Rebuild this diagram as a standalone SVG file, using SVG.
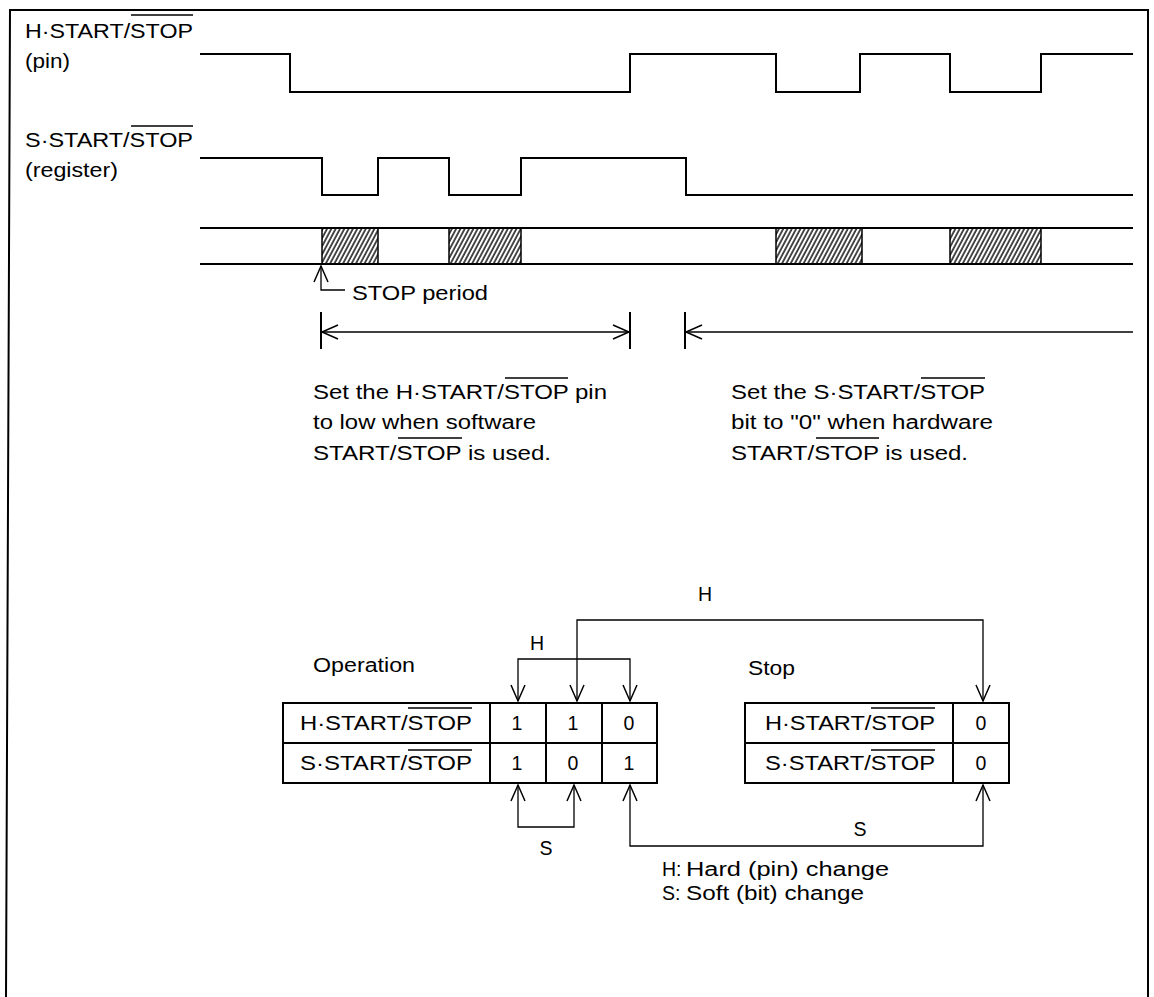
<svg xmlns="http://www.w3.org/2000/svg" width="1154" height="997" viewBox="0 0 1154 997">
<style>
text { font-family: "Liberation Sans", Arial, Helvetica, sans-serif; font-size: 19.5px; fill: #000; }
.mid { text-anchor: middle; }
.wave { fill: none; stroke: #000; stroke-width: 2; }
.thin { fill: none; stroke: #000; stroke-width: 1.3; }
.tick { fill: none; stroke: #000; stroke-width: 2; }
.box { fill: none; stroke: #000; stroke-width: 2; }
.ol { fill: none; stroke: #000; stroke-width: 1.5; }
.hatch { fill: url(#hatch); stroke: #000; stroke-width: 1.5; }
.arr { marker-end: url(#arrow); }
.arr2 { marker-start: url(#arrow); marker-end: url(#arrow); }
</style>
<defs>
<pattern id="hatch" patternUnits="userSpaceOnUse" width="3.8" height="10" patternTransform="rotate(28)">
<line x1="1" y1="-1" x2="1" y2="11" stroke="#000" stroke-width="1.4"/>
</pattern>
<marker id="arrow" markerUnits="userSpaceOnUse" markerWidth="22" markerHeight="20" viewBox="-20 -10 22 20" refX="0" refY="0" orient="auto-start-reverse">
<path d="M-16,-7 L0,0 L-16,7" fill="none" stroke="#000" stroke-width="1.5"/>
</marker>
</defs>
<rect width="1154" height="997" fill="#fff"/>
<path d="M6,997 L10,10 L1148,10 L1148,997" fill="none" stroke="#000" stroke-width="2"/>

<g id="label-h-pin">
<text x="25" y="38" textLength="168" lengthAdjust="spacingAndGlyphs">H·START/STOP</text>
<line class="ol" x1="131" y1="15" x2="193" y2="15"/>
<text x="25" y="68" textLength="45" lengthAdjust="spacingAndGlyphs">(pin)</text>
</g>
<g id="label-s-register">
<text x="25" y="147" textLength="168" lengthAdjust="spacingAndGlyphs">S·START/STOP</text>
<line class="ol" x1="131" y1="126" x2="193" y2="126"/>
<text x="25" y="177" textLength="93" lengthAdjust="spacingAndGlyphs">(register)</text>
</g>

<g id="wave-h">
<path class="wave" d="M200,54 H290 V92 H630 V54 H776 V92 H860 V54 H950 V92 H1041 V54 H1133"/>
</g>
<g id="wave-s">
<path class="wave" d="M200,158 H322 V195 H378 V158 H449 V195 H521 V158 H686 V195 H1133"/>
</g>
<g id="stop-band">
<rect class="hatch" x="322" y="228" width="56" height="36"/>
<rect class="hatch" x="449" y="228" width="72" height="36"/>
<rect class="hatch" x="776" y="228" width="86" height="36"/>
<rect class="hatch" x="950" y="228" width="91" height="36"/>
<path class="wave" d="M200,228 H1133 M200,264 H1133"/>
</g>

<g id="stop-period">
<text x="352" y="300" textLength="136" lengthAdjust="spacingAndGlyphs">STOP period</text>
</g>

<g id="note-software">
<text x="313" y="399" textLength="294" lengthAdjust="spacingAndGlyphs">Set the H·START/STOP pin</text>
<line class="ol" x1="505" y1="378" x2="568" y2="378"/>
<text x="313" y="429" textLength="223" lengthAdjust="spacingAndGlyphs">to low when software</text>
<text x="313" y="460" textLength="238" lengthAdjust="spacingAndGlyphs">START/STOP is used.</text>
<line class="ol" x1="398" y1="438" x2="462" y2="438"/>
</g>
<g id="note-hardware">
<text x="731" y="399" textLength="254" lengthAdjust="spacingAndGlyphs">Set the S·START/STOP</text>
<line class="ol" x1="921" y1="378" x2="985" y2="378"/>
<text x="731" y="429" textLength="262" lengthAdjust="spacingAndGlyphs">bit to "0" when hardware</text>
<text x="731" y="460" textLength="237" lengthAdjust="spacingAndGlyphs">START/STOP is used.</text>
<line class="ol" x1="816" y1="438" x2="879" y2="438"/>
</g>

<g id="table-operation">
<text x="313" y="672" textLength="102" lengthAdjust="spacingAndGlyphs">Operation</text>
<rect class="box" x="283" y="703" width="374" height="80"/>
<path class="box" d="M283,743 H657 M490,703 V783 M546,703 V783 M602,703 V783"/>
<text x="300" y="730" textLength="172" lengthAdjust="spacingAndGlyphs">H·START/STOP</text>
<line class="ol" x1="408" y1="708" x2="472" y2="708"/>
<text x="300" y="770" textLength="172" lengthAdjust="spacingAndGlyphs">S·START/STOP</text>
<line class="ol" x1="408" y1="750" x2="472" y2="750"/>
<text class="mid" x="517" y="730">1</text>
<text class="mid" x="573" y="730">1</text>
<text class="mid" x="629" y="730">0</text>
<text class="mid" x="517" y="770">1</text>
<text class="mid" x="573" y="770">0</text>
<text class="mid" x="629" y="770">1</text>
</g>

<g id="table-stop">
<text x="748" y="675" textLength="47" lengthAdjust="spacingAndGlyphs">Stop</text>
<rect class="box" x="745" y="703" width="264" height="80"/>
<path class="box" d="M745,743 H1009 M953,703 V783"/>
<text x="765" y="730" textLength="170" lengthAdjust="spacingAndGlyphs">H·START/STOP</text>
<line class="ol" x1="871" y1="708" x2="935" y2="708"/>
<text x="765" y="770" textLength="170" lengthAdjust="spacingAndGlyphs">S·START/STOP</text>
<line class="ol" x1="871" y1="750" x2="935" y2="750"/>
<text class="mid" x="981" y="730">0</text>
<text class="mid" x="981" y="770">0</text>
</g>

<g id="legend">
<text x="662" y="876">H:</text>
<text x="686" y="876" textLength="203" lengthAdjust="spacingAndGlyphs">Hard (pin) change</text>
<text x="662" y="900">S:</text>
<text x="686" y="900" textLength="178" lengthAdjust="spacingAndGlyphs">Soft (bit) change</text>
</g>

<g id="connectors">
<path class="thin arr" d="M345,290 H321 V266"/>
<path class="tick" d="M321,312 V349 M630,312 V349 M685,312 V349"/>
<path class="thin arr2" d="M322,332 H629"/>
<path class="thin arr" d="M1133,332 H686"/>
<path class="thin arr2" d="M577,701 V620 H983 V701"/>
<path class="thin arr2" d="M518,701 V659 H630 V701"/>
<path class="thin arr2" d="M518,785 V827 H574 V785"/>
<path class="thin arr2" d="M630,785 V846 H983 V785"/>
<text class="mid" x="705" y="601">H</text>
<text class="mid" x="537" y="650">H</text>
<text class="mid" x="546" y="855">S</text>
<text class="mid" x="860" y="836">S</text>
</g>
</svg>
